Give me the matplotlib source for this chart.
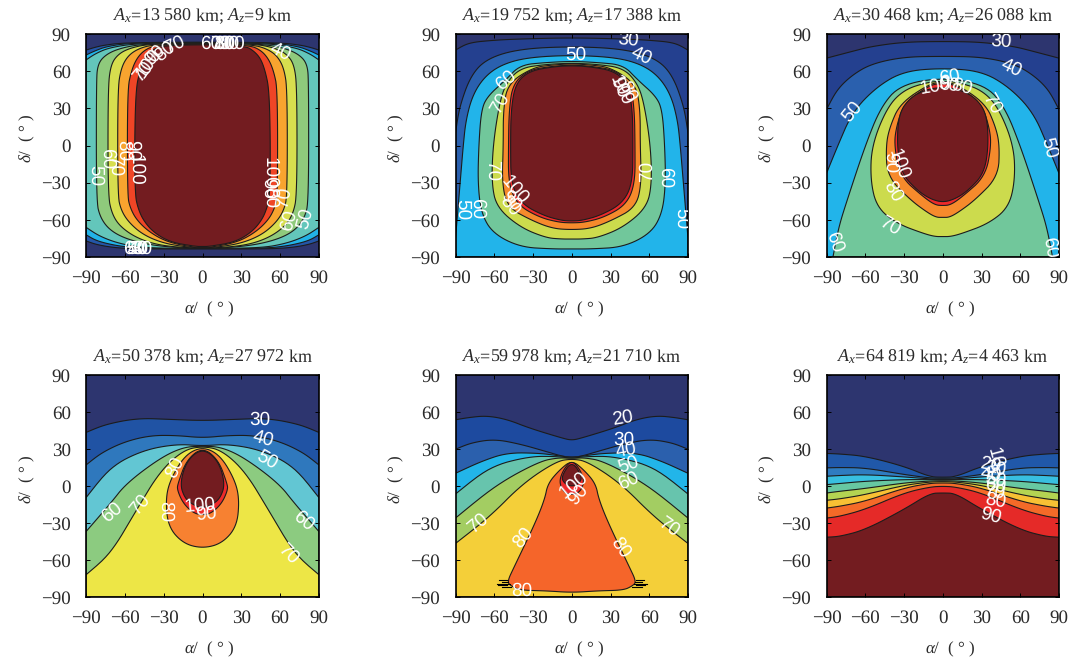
import matplotlib
matplotlib.use("Agg")
import matplotlib.pyplot as plt
from matplotlib.patches import Polygon

plt.rcParams['font.family'] = ['Liberation Serif']
plt.rcParams['mathtext.fontset'] = 'custom'
plt.rcParams['mathtext.rm'] = 'Liberation Serif'
plt.rcParams['mathtext.it'] = 'Liberation Serif:italic'
plt.rcParams['text.hinting'] = 'no_hinting'
plt.rcParams['text.hinting_factor'] = 1

W, H = 1073, 658
TITLES = ["13 580|9", "19 752|17 388", "30 468|26 088", "50 378|27 972", "59 978|21 710", "64 819|4 463"]
TICKS = [-90, -60, -30, 0, 30, 60, 90]
BOXES = [(86, 34, 319, 257), (455.5, 34, 688, 257), (826.5, 34, 1059, 257),
         (86, 375, 319, 597), (455.5, 375, 688, 597), (826.5, 375, 1059, 597)]

NAVY = '#2d356f'
BACKGROUND = NAVY
# every region: (colour, [(delta, half width in alpha), ...]) from top to bottom, mirrored about alpha = 0
P1 = [
 ('#2356a8', [(83.5,0),(83,60),(81,76),(79,84),(77,90),(-77,90),(-80,82),(-82.5,68),(-83.5,50),(-83.5,0)]),
 ('#22b3e8', [(83.2,0),(82.8,55),(80,74),(76,84),(73,90),(-72,90),(-77,82),(-81,66),(-83,48),(-83.3,0)]),
 ('#63c6bb', [(83,0),(82.5,50),(79,72),(74,83),(69,90),(-66,90),(-73,80),(-79,65),(-82.8,45),(-83,0)]),
 ('#8fca7c', [(82.7,0),(82,45),(79,62),(74,74),(66,81),(50,82),(-45,82),(-58,79),(-68,72),(-75,60),(-80,42),(-82.5,20),(-82.7,0)]),
 ('#d7de4e', [(82.5,0),(82,40),(79,55),(74,65),(65,71),(45,73),(-40,73),(-55,70),(-65,64),(-74,52),(-80,36),(-82.5,15),(-82.5,0)]),
 ('#f8a42f', [(82.3,0),(81.5,38),(78,50),(72,58),(62,63),(45,65.5),(-40,65.5),(-52,63),(-62,57),(-72,46),(-79,30),(-82.3,10),(-82.3,0)]),
 ('#ef4526', [(82,0),(81,36),(77,45),(70,51),(60,55),(45,58),(-40,58),(-50,56),(-60,51),(-70,41),(-78,27),(-82,8),(-82,0)]),
 ('#731c20', [(81.5,0),(80.5,33),(76,40),(70,45),(60,48.5),(45,51.5),(0,52.5),(-40,52),(-50,50),(-60,46),(-70,38),(-78,25),(-81.5,5),(-81.5,0)]),
]
P2 = [
 ('#24408f', [(87,0),(86,40),(85,60),(83,80),(77,90),(-90,90),(-90,0)]),
 ('#2a60ae', [(80,0),(78,40),(70.5,65),(57,78),(31,87),(10,90),(-90,90),(-90,0)]),
 ('#22b4ea', [(73,0),(71,35),(65,55),(55,68),(40,77),(20,82),(0,84),(-25,86),(-50,88),(-75,90),(-90,90),(-90,0)]),
 ('#71c79b', [(68,0),(67,20),(65,40),(53,51),(40,65),(29,70),(0,72),(-31,72.7),(-55,70),(-71,61),(-82,40),(-83.5,15),(-83.5,0)]),
 ('#ccdb4d', [(66.5,0),(65.5,20),(62.5,40),(50,51),(34,56),(0,61),(-31,62),(-50,58),(-66,40),(-74.5,20),(-75.5,8),(-75.5,0)]),
 ('#f68a2c', [(66,0),(65,15),(63,30),(50,49.5),(29,53),(0,53),(-31,54),(-50,49.5),(-60.5,31),(-67,15),(-68,0)]),
 ('#ee2a2a', [(65,0),(64,15),(61,33),(50,45.5),(29,48.5),(0,49),(-31,49),(-48,42),(-58,25),(-62,10),(-62.5,0)]),
 ('#731c20', [(64.5,0),(63.5,15),(60,33),(50,43.5),(29,47),(0,47.4),(-31,47),(-47,39),(-56.5,22),(-60.5,8),(-61,0)]),
]
P3 = [
 ('#24408f', [(84,0),(83.5,30),(80,55),(76,70),(70.5,90),(-90,90),(-90,0)]),
 ('#2a60ae', [(72,0),(71.5,30),(66,55),(57,70),(45,82),(29,90),(-90,90),(-90,0)]),
 ('#22b4ea', [(62.5,0),(60,30),(47.5,51),(27,70),(-2,82),(-22.5,90),(-90,90),(-90,0)]),
 ('#71c79b', [(55,0),(49,33),(31,48),(0,60),(-44,74),(-66,80.6),(-90,85),(-90,0)]),
 ('#ccdb4d', [(52,0),(51,12),(45,30),(31,43),(0,55),(-28,56),(-50,51),(-63,35.5),(-71,15),(-73.5,6),(-73.5,0)]),
 ('#f68a2c', [(51,0),(50,10),(34,33),(15,41),(0,44),(-25,43),(-44,25),(-54,12),(-58,5),(-58,0)]),
 ('#ee2a2a', [(50,0),(49,10),(34,30),(15,36),(0,37.6),(-25,33),(-41.5,15),(-48,6),(-48.5,0)]),
 ('#731c20', [(47,0),(45.5,12),(39,25),(26,34),(0,35.5),(-22.5,32),(-36,20),(-43,10),(-46,0)]),
]
P4 = [
 ('#2053a4', [(53,0),(54,25),(55,50),(50,75),(43.4,90),(-90,90),(-90,0)]),
 ('#2f78bd', [(39,0),(41,20),(41,40),(36,60),(27,78),(17,90),(-90,90),(-90,0)]),
 ('#62c6d3', [(32.5,0),(34,20),(29,46),(15.7,71),(-9.5,90),(-90,90),(-90,0)]),
 ('#8ccb80', [(32.4,0),(31.5,15),(22.5,33),(2,59),(-14,71),(-37,90),(-90,90),(-90,0)]),
 ('#ede646', [(32.3,0),(29,15),(11.7,33),(-19.5,51),(-55,71),(-72,90),(-90,90),(-90,0)]),
 ('#f78131', [(32,0),(25,13.7),(5,25),(-11,28.5),(-33,26.5),(-46.6,15),(-50.6,0)]),
 ('#ee2a2a', [(31.5,0),(21,12.4),(2,19),(-3,19.6),(-14,15),(-22,7),(-23.5,0)]),
 ('#731c20', [(30.6,0),(21,12),(2,17.5),(-10,13.7),(-15.4,7),(-18,0)]),
]
P5 = [
 ('#1d4a9f', [(37,0),(39,8),(47,33),(54,50),(57,66),(55.5,80),(53.7,90),(-90,90),(-90,0)]),
 ('#2b60ad', [(23.3,0),(24,7),(28,20),(34,40),(38,60),(35,78),(29.8,90),(-90,90),(-90,0)]),
 ('#22b5e9', [(23,0),(24.5,10),(26.6,25),(27,50),(20,70),(10.3,90),(-90,90),(-90,0)]),
 ('#67c4ad', [(22.5,0),(24,12),(24,33),(15.7,63.6),(-6.5,90),(-90,90),(-90,0)]),
 ('#a3cd62', [(22.3,0),(23,10),(20,25),(1,58.5),(-26,90),(-90,90),(-90,0)]),
 ('#f4cf39', [(22,0),(20,12),(2,38),(-25,63.6),(-46.6,90),(-90,90),(-90,0)]),
 ('#f5652a', [(21,0),(13,9.5),(2,18.5),(-11,21),(-31.7,29),(-65.6,44.6),(-77.7,50),(-81,47),(-84.5,40),(-85,20),(-86.4,0)]),
 ('#ee2a2a', [(20.8,0),(14,6),(5,9.5),(-2,8),(-6,4.4),(-7,0)]),
 ('#731c20', [(20.6,0),(7.6,8.2),(2,5.7),(-0.5,0)]),
]
P6 = [
 ('#2058a9', [(7.1,0),(7.4,10),(16,30),(24.2,60),(26,80),(26.4,90),(-90,90),(-90,0)]),
 ('#2f7cc0', [(6.3,0),(6.5,10),(9.3,30),(14.7,60),(15,80),(14.7,90),(-90,90),(-90,0)]),
 ('#38bfe0', [(5.7,0),(5.7,10),(7.4,30),(9.3,60),(8.5,80),(7.9,90),(-90,90),(-90,0)]),
 ('#67c8a2', [(5.2,0),(5.2,10),(5.2,30),(3.9,60),(2,80),(1.1,90),(-90,90),(-90,0)]),
 ('#b4d452', [(4.3,0),(4.1,10),(2.5,30),(-2,60),(-4.3,80),(-5.7,90),(-90,90),(-90,0)]),
 ('#f8c034', [(3.6,0),(3.3,10),(0.6,30),(-7,60),(-10.5,80),(-11.6,90),(-90,90),(-90,0)]),
 ('#f46a28', [(2.5,0),(2.2,10),(-1.6,30),(-12.4,60),(-16.5,80),(-17.9,90),(-90,90),(-90,0)]),
 ('#e52a28', [(-0.2,0),(-0.8,10),(-5.6,30),(-19,60),(-24.7,80),(-26,90),(-90,90),(-90,0)]),
 ('#731c20', [(-5.6,0),(-6,10),(-19,30),(-35.5,60),(-41,80),(-41.5,90),(-90,90),(-90,0)]),
]
PANELS = [P1, P2, P3, P4, P5, P6]

# contour labels: text, alpha, delta, rotation
L1 = [("70",-22,81,25),("80",-29,76,40),("90",-37,73,45),("100",-42,66.5,55),("70",-46,60,50),
      ("60",6,82,0),("70",14,82,0),("80",17.5,82,0),("90",20,82,0),("100",21,82,0),("40",60,76,-25),
      ("80",-61,-4,-90),("70",-67.5,-16,-90),("60",-74,-10.5,-90),("50",-83,-24,-90),("90",-54,-4,-90),("100",-52,-20,-90),
      ("100",52,-22,-90),("90",51,-35,-90),("80",52,-42,-90),("70",63,-42,80),("60",66.5,-60.5,75),("50",79,-59,75),
      ("60",-53,-83.5,0),("50",-51,-83.5,0),("40",-49.5,-83.5,0),("30",-47,-83.5,0)]
L2 = [("30",44,85,-5),("50",3,73,0),("40",54,72,-25),("60",-51,53,40),("70",-56,34,60),
      ("90",37,47,-65),("100",38,45,-65),("80",43,44,-65),("70",-62,-20,-90),("70",58,-21,90),("60",72,-26,-90),
      ("100",-44,-36,-50),("90",-47,-45,-50),("80",-48,-49,-50),("60",-73,-51,-90),("50",-85,-52,-90),("50",85,-59,-90)]
L3 = [("30",45,84,-3),("40",53,63,-25),("50",-70,27,50),("50",82,-2,-75),("60",5,55,10),("100",-6,48,10),
      ("90",4,49,-10),("80",15,47,-15),("70",38,34,-60),("100",-34,-15,-70),("90",-41,-14,-90),("80",-39,-37,-60),
      ("70",-41,-65,-30),("60",-84,-78,-70),("60",83,-82,-80)]
L4 = [("30",44,54,0),("40",47,38,-15),("50",50,21,-30),("60",-70,-21,40),("60",78,-28,-40),("70",-48,-15,50),
      ("70",66,-55,-45),("80",-21,15,65),("80",-29,-21,-90),("100",-2,-16,5),("90",3,-23,5)]
L5 = [("20",39,55,10),("30",40,37,0),("40",42,29,10),("50",44,17,20),("60",44,4,25),("100",1,1,40),("90",5,-7,50),
      ("70",-73,-30,40),("70",75,-33,-35),("80",-38,-42,50),("80",38,-50,-55),("80",-39,-85,0)]
L6 = [("10",41,23,-75),("20",37,17,-10),("30",41,14,-10),("40",37,9,-10),("50",41,5,-10),("60",41,0,-10),
      ("70",40,-5,-10),("80",41,-12,-10),("90",37,-24,-15)]
LABELS = [L1, L2, L3, L4, L5, L6]

# jagged contour artefacts of the fifth panel: delta, half width of the ticks
SPIKES = [(-76.5,50,56),(-78,49,54),(-79.5,48,58),(-80.5,50,57),(-82,47,54)]


def rounded(points, rounds=3):
    """Cut the corners of a closed outline; vertices on the frame stay put."""
    def fixed(p):
        return abs(p[0]) >= 90 or p[1] <= -90
    for _ in range(rounds):
        out = []
        n = len(points)
        for k, p in enumerate(points):
            if fixed(p):
                out.append(p)
                continue
            a = points[k-1]
            b = points[(k+1) % n]
            out.append((0.75*p[0]+0.25*a[0], 0.75*p[1]+0.25*a[1]))
            out.append((0.75*p[0]+0.25*b[0], 0.75*p[1]+0.25*b[1]))
        points = out
    return points


INK = '#2b2b2b'
fig = plt.figure(figsize=(W/100, H/100), dpi=100)
for i, (box, regions, labels, title) in enumerate(zip(BOXES, PANELS, LABELS, TITLES)):
    x0, y0, x1, y1 = box
    ax = fig.add_axes([x0/W, 1-y1/H, (x1-x0)/W, (y1-y0)/H])
    ax.set_facecolor(BACKGROUND)
    ax.set_xlim(-90, 90); ax.set_ylim(-90, 90)
    for colour, prof in regions:
        right = [(w, d) for d, w in prof]
        left = [(-w, d) for d, w in reversed(prof) if w > 0]
        ax.add_patch(Polygon(rounded(right+left), closed=True, facecolor=colour, edgecolor='#1c1c1c', lw=0.8))
    if i == 4:
        for d, a, b in SPIKES:
            ax.plot([a, b], [d, d], color='black', lw=0.8)
            ax.plot([-b, -a], [d, d], color='black', lw=0.8)
    for txt, a, d, r in labels:
        ax.text(a, d, txt, color='white', fontsize=14, family='Liberation Sans', rotation=r,
                ha='center', va='center', rotation_mode='anchor', clip_on=True)
    ax.set_xticks(TICKS); ax.set_yticks(TICKS)
    ax.set_xticklabels([str(t).replace('-', '\u2212') for t in TICKS])
    ax.set_yticklabels([str(t).replace('-', '\u2212') for t in TICKS])
    ax.tick_params(direction='in', length=3, width=0.7, top=True, right=True, labelsize=13.4,
                   labelcolor=INK)
    ax.tick_params(axis='x', pad=9)
    ax.tick_params(axis='y', pad=11)
    for s in ax.spines.values():
        s.set_linewidth(1.2)
    ax.set_xlabel(r"$\mathit{\alpha}$/  ( ° )", fontsize=12.6, color=INK, va='center')
    ax.xaxis.set_label_coords(0.53, -52/(y1-y0))
    ax.set_ylabel(r"$\mathit{\delta}$/  ( ° )", fontsize=12.6, color=INK, va='center')
    ax.yaxis.set_label_coords(-59/233, 0.53)
    ax_v, az_v = title.split('|')
    ax.set_title(rf"$\mathit{{A}}_{{x}}$={ax_v} km; $\mathit{{A}}_{{z}}$={az_v} km", fontsize=13.2, pad=9,
                 y=1.0, color=INK)
fig.savefig("out.png", dpi=100)
